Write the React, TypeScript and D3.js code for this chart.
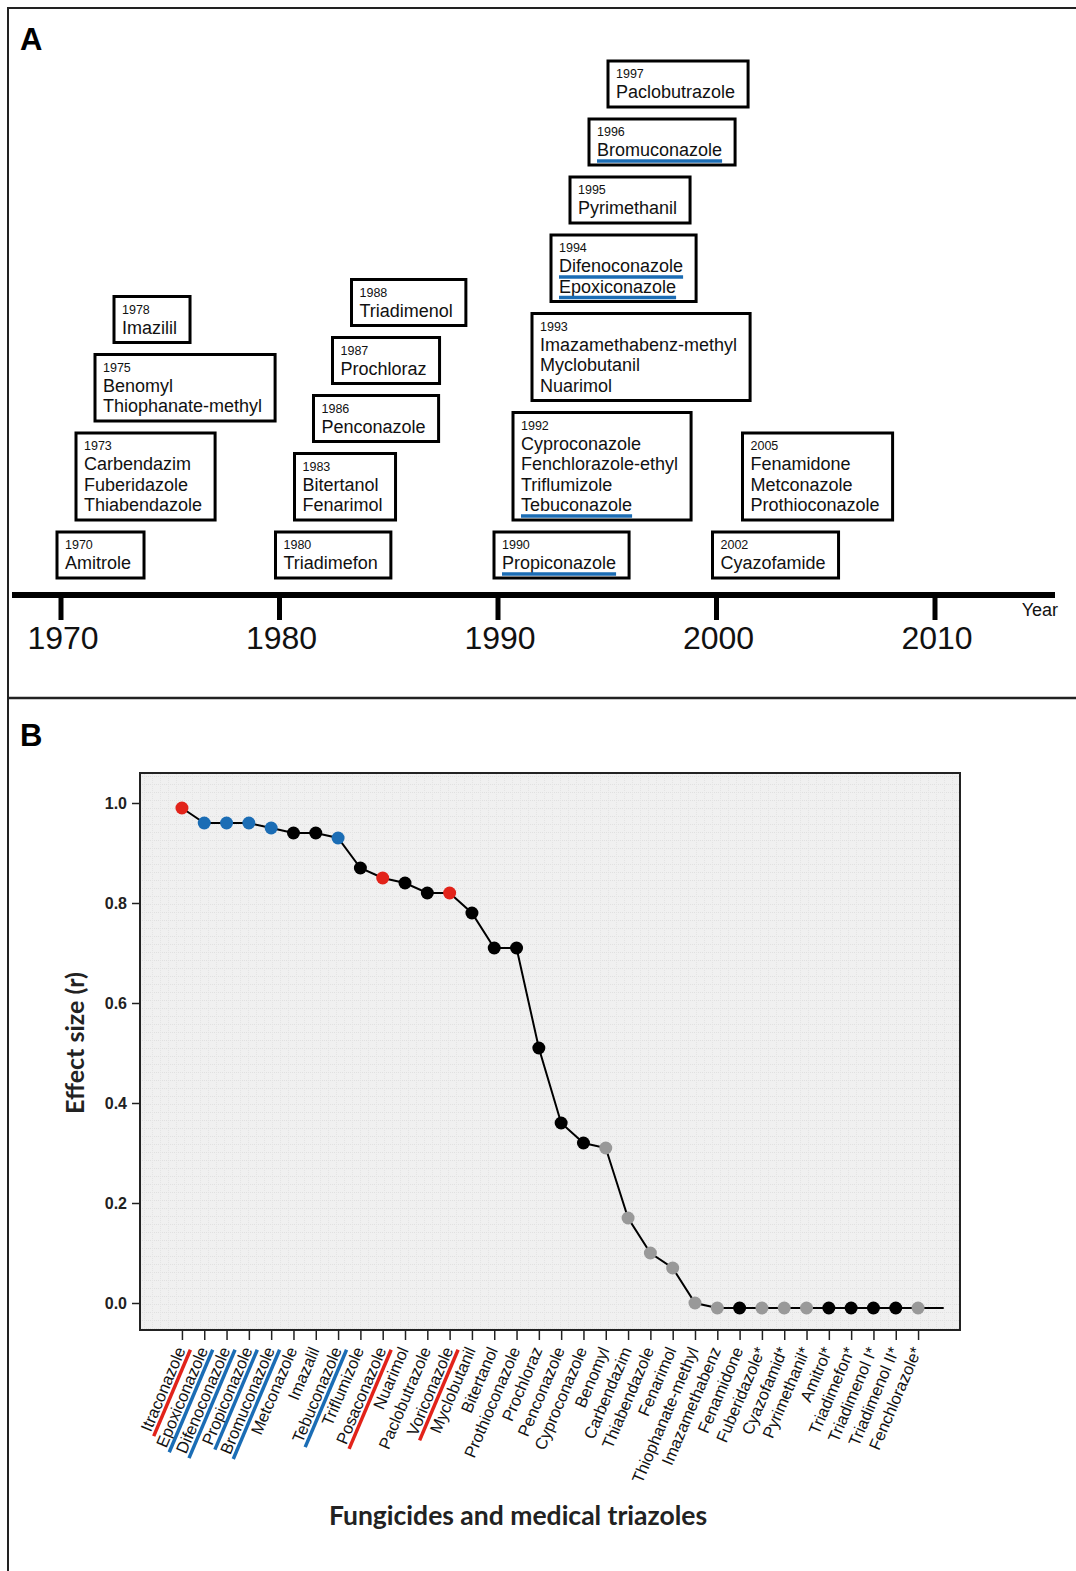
import React, { useEffect, useRef } from "react";
import * as d3 from "d3";

// ---- panel A: year of introduction ----
const introYears = [1970, 1973, 1975, 1978, 1980, 1983, 1986, 1987, 1988, 1990, 1992, 1993, 1994, 1995, 1996, 1997, 2002, 2005];
const introNames = [
  ["Amitrole"],
  ["Carbendazim", "Fuberidazole", "Thiabendazole"],
  ["Benomyl", "Thiophanate-methyl"],
  ["Imazilil"],
  ["Triadimefon"],
  ["Bitertanol", "Fenarimol"],
  ["Penconazole"],
  ["Prochloraz"],
  ["Triadimenol"],
  ["Propiconazole"],
  ["Cyproconazole", "Fenchlorazole-ethyl", "Triflumizole", "Tebuconazole"],
  ["Imazamethabenz-methyl", "Myclobutanil", "Nuarimol"],
  ["Difenoconazole", "Epoxiconazole"],
  ["Pyrimethanil"],
  ["Bromuconazole"],
  ["Paclobutrazole"],
  ["Cyazofamide"],
  ["Fenamidone", "Metconazole", "Prothioconazole"],
];
const underlinedNames = ["Propiconazole", "Tebuconazole", "Difenoconazole", "Epoxiconazole", "Bromuconazole"];
const decadeTicks = [1970, 1980, 1990, 2000, 2010];

// ---- panel B: effect size ----
const fungicides = [
  "Itraconazole", "Epoxiconazole", "Difenoconazole", "Propiconazole", "Bromuconazole", "Metconazole",
  "Imazalil", "Tebuconazole", "Triflumizole", "Posaconazole", "Nuarimol", "Paclobutrazole",
  "Voriconazole", "Myclobutanil", "Bitertanol", "Prothioconazole", "Prochloraz", "Penconazole",
  "Cyproconazole", "Benomyl", "Carbendazim", "Thiabendazole", "Fenarimol", "Thiophanate-methyl",
  "Imazamethabenz", "Fenamidone", "Fuberidazole*", "Cyazofamid*", "Pyrimethanil*", "Amitrol*",
  "Triadimefon*", "Triadimenol I*", "Triadimenol II*", "Fenchlorazole*",
];
const effectSize = [
  0.99, 0.96, 0.96, 0.96, 0.95, 0.94, 0.94, 0.93, 0.87, 0.85, 0.84, 0.82,
  0.82, 0.78, 0.71, 0.71, 0.51, 0.36, 0.32, 0.31, 0.17, 0.1, 0.07, 0.0,
  -0.01, -0.01, -0.01, -0.01, -0.01, -0.01, -0.01, -0.01, -0.01, -0.01,
];
const pointGroup = [
  "medical", "agri", "agri", "agri", "agri", "other", "other", "agri", "other", "medical", "other", "other",
  "medical", "other", "other", "other", "other", "other", "other", "grey", "grey", "grey", "grey", "grey",
  "grey", "other", "grey", "grey", "grey", "other", "other", "other", "other", "grey",
];
const yTicks = [0, 0.2, 0.4, 0.6, 0.8, 1.0];

const groupColor: Record<string, string> = {
  medical: "#e2231a",
  agri: "#1b6db5",
  other: "#000000",
  grey: "#999999",
};

const ARIAL = "Arial, 'Liberation Sans', sans-serif";
const CALIBRI = "Lato, 'Open Sans', sans-serif";

export default function App() {
  const svgRef = useRef<SVGSVGElement | null>(null);

  useEffect(() => {
    if (!svgRef.current) return;
    const svg = d3.select(svgRef.current);
    svg.selectAll("*").remove();

    // figure frame
    svg.append("line").attr("x1", 8).attr("x2", 1076).attr("y1", 8).attr("y2", 8).attr("stroke", "#222").attr("stroke-width", 2);
    svg.append("line").attr("x1", 8).attr("x2", 8).attr("y1", 7).attr("y2", 1571).attr("stroke", "#222").attr("stroke-width", 2);
    svg.append("line").attr("x1", 8).attr("x2", 1076).attr("y1", 698).attr("y2", 698).attr("stroke", "#222").attr("stroke-width", 2.5);

    svg.append("text").attr("x", 20).attr("y", 50).text("A")
      .attr("font-family", ARIAL).attr("font-weight", "bold").attr("font-size", 31);
    svg.append("text").attr("x", 20).attr("y", 746).text("B")
      .attr("font-family", ARIAL).attr("font-weight", "bold").attr("font-size", 31);

    // ===== Panel A =====
    const xYear = d3.scaleLinear().domain([1970, 2010]).range([61, 935]);
    const axisY = 595;
    const gA = svg.append("g");
    gA.append("line").attr("x1", 12).attr("x2", 1055).attr("y1", axisY).attr("y2", axisY)
      .attr("stroke", "#000").attr("stroke-width", 6);
    decadeTicks.forEach((yr) => {
      gA.append("line").attr("x1", xYear(yr)).attr("x2", xYear(yr)).attr("y1", axisY).attr("y2", 620)
        .attr("stroke", "#000").attr("stroke-width", 5);
      gA.append("text").attr("x", xYear(yr) + 2).attr("y", 649).attr("text-anchor", "middle")
        .attr("font-family", ARIAL).attr("font-size", 32).attr("fill", "#111").text(String(yr));
    });
    gA.append("text").attr("x", 1058).attr("y", 616).attr("text-anchor", "end")
      .attr("font-family", ARIAL).attr("font-size", 18).attr("fill", "#111").text("Year");

    // stacked boxes per decade
    const levelInDecade: Record<number, number> = {};
    const stackBottom: Record<number, number> = {};
    introYears.forEach((yr, i) => {
      const decade = Math.floor(yr / 10) * 10;
      const level = levelInDecade[decade] ?? 0;
      levelInDecade[decade] = level + 1;
      const names = introNames[i];
      const h = 46 + 20.5 * (names.length - 1);
      const bottom = stackBottom[decade] ?? 578;
      const top = bottom - h;
      stackBottom[decade] = top - 12;
      const left = xYear(decade) - 4 + level * (decade === 2000 ? 30 : 19);

      const g = gA.append("g").attr("transform", `translate(${left},${top})`);
      const rect = g.append("rect").attr("height", h).attr("fill", "#fff")
        .attr("stroke", "#000").attr("stroke-width", 3);
      g.append("text").attr("x", 8).attr("y", 17).attr("font-family", ARIAL).attr("font-size", 12.5)
        .attr("fill", "#111").text(String(yr));
      let maxW = 0;
      names.forEach((n, j) => {
        const t = g.append("text").attr("x", 8).attr("y", 37 + j * 20.5).attr("font-family", ARIAL)
          .attr("font-size", 18).attr("fill", "#111").text(n);
        const w = (t.node() as SVGTextElement).getComputedTextLength();
        maxW = Math.max(maxW, w);
        if (underlinedNames.includes(n)) {
          g.append("line").attr("x1", 8).attr("x2", 8 + w).attr("y1", 37 + j * 20.5 + 5).attr("y2", 37 + j * 20.5 + 5)
            .attr("stroke", groupColor.agri).attr("stroke-width", 3.5);
        }
      });
      rect.attr("width", maxW + 21);
    });

    // ===== Panel B =====
    const plot = { left: 140, right: 960, top: 773, bottom: 1330 };
    const x = d3.scalePoint<string>().domain(fungicides).range([plot.left, plot.right]).padding(1.88);
    const y = d3.scaleLinear().domain([0, 1]).range([1303, 803]);

    const defs = svg.append("defs");
    const pat = defs.append("pattern").attr("id", "dots").attr("width", 8).attr("height", 8)
      .attr("patternUnits", "userSpaceOnUse");
    pat.append("rect").attr("width", 8).attr("height", 8).attr("fill", "#f0f0f0");
    for (let k = 0; k < 8; k += 2) {
      pat.append("rect").attr("x", k).attr("y", 0).attr("width", 1).attr("height", 1).attr("fill", "#e0e0e0");
      pat.append("rect").attr("x", 0).attr("y", k).attr("width", 1).attr("height", 1).attr("fill", "#e4e4e4");
    }

    const gB = svg.append("g");
    gB.append("rect").attr("x", plot.left).attr("y", plot.top)
      .attr("width", plot.right - plot.left).attr("height", plot.bottom - plot.top)
      .attr("fill", "url(#dots)").attr("stroke", "#222").attr("stroke-width", 2);

    // y axis
    const yAxis = d3.axisLeft(y).tickValues(yTicks).tickSize(8).tickPadding(5).tickFormat(d3.format(".1f"));
    const ya = gB.append("g").attr("transform", `translate(${plot.left},0)`).call(yAxis);
    ya.select(".domain").remove();
    ya.selectAll("line").attr("stroke", "#222").attr("stroke-width", 1.5);
    ya.selectAll("text").attr("font-family", ARIAL).attr("font-size", 16).attr("font-weight", "bold").attr("fill", "#222");

    // x axis ticks
    const xAxis = d3.axisBottom(x).tickSize(10).tickFormat(() => "");
    const xa = gB.append("g").attr("transform", `translate(0,${plot.bottom})`).call(xAxis);
    xa.select(".domain").remove();
    xa.selectAll("line").attr("stroke", "#222").attr("stroke-width", 1.5);

    // rotated labels with coloured underlines
    const angle = -67;
    fungicides.forEach((name, i) => {
      const lg = gB.append("g").attr("transform", `translate(${(x(name) as number) + 4},${plot.bottom + 20}) rotate(${angle})`);
      const t = lg.append("text").attr("text-anchor", "end").attr("font-family", ARIAL).attr("font-size", 16.5)
        .attr("fill", "#111").text(name);
      const grp = pointGroup[i];
      if (grp === "medical" || grp === "agri") {
        const w = (t.node() as SVGTextElement).getComputedTextLength();
        lg.append("line").attr("x1", -w - 2).attr("x2", 2).attr("y1", 4).attr("y2", 4)
          .attr("stroke", groupColor[grp]).attr("stroke-width", 3.5);
      }
    });

    // line + points
    const pts = fungicides.map((name, i) => ({ name, v: effectSize[i], g: pointGroup[i] }));
    const line = d3.line<{ name: string; v: number }>().x((d) => x(d.name) as number).y((d) => y(d.v));
    gB.append("path").datum(pts).attr("d", line).attr("fill", "none").attr("stroke", "#000").attr("stroke-width", 2);
    const last = pts[pts.length - 1];
    gB.append("line").attr("x1", x(last.name) as number).attr("x2", (x(last.name) as number) + x.step() * 1.15)
      .attr("y1", y(last.v)).attr("y2", y(last.v)).attr("stroke", "#000").attr("stroke-width", 2);
    gB.selectAll("circle.pt").data(pts).enter().append("circle")
      .attr("cx", (d) => x(d.name) as number).attr("cy", (d) => y(d.v)).attr("r", 6.5)
      .attr("fill", (d) => groupColor[d.g]);

    // axis titles
    gB.append("text").attr("transform", `translate(84,1043) rotate(-90)`).attr("text-anchor", "middle")
      .attr("font-family", CALIBRI).attr("font-weight", "bold").attr("font-size", 25).attr("fill", "#222")
      .text("Effect size (r)");
    gB.append("text").attr("x", 518).attr("y", 1525).attr("text-anchor", "middle")
      .attr("font-family", CALIBRI).attr("font-weight", "bold").attr("font-size", 26.5).attr("fill", "#222")
      .text("Fungicides and medical triazoles");
  }, []);

  return (
    <svg
      ref={svgRef}
      width={1076}
      height={1571}
      style={{ position: "absolute", left: 0, top: 0, background: "#fff", display: "block" }}
    />
  );
}
